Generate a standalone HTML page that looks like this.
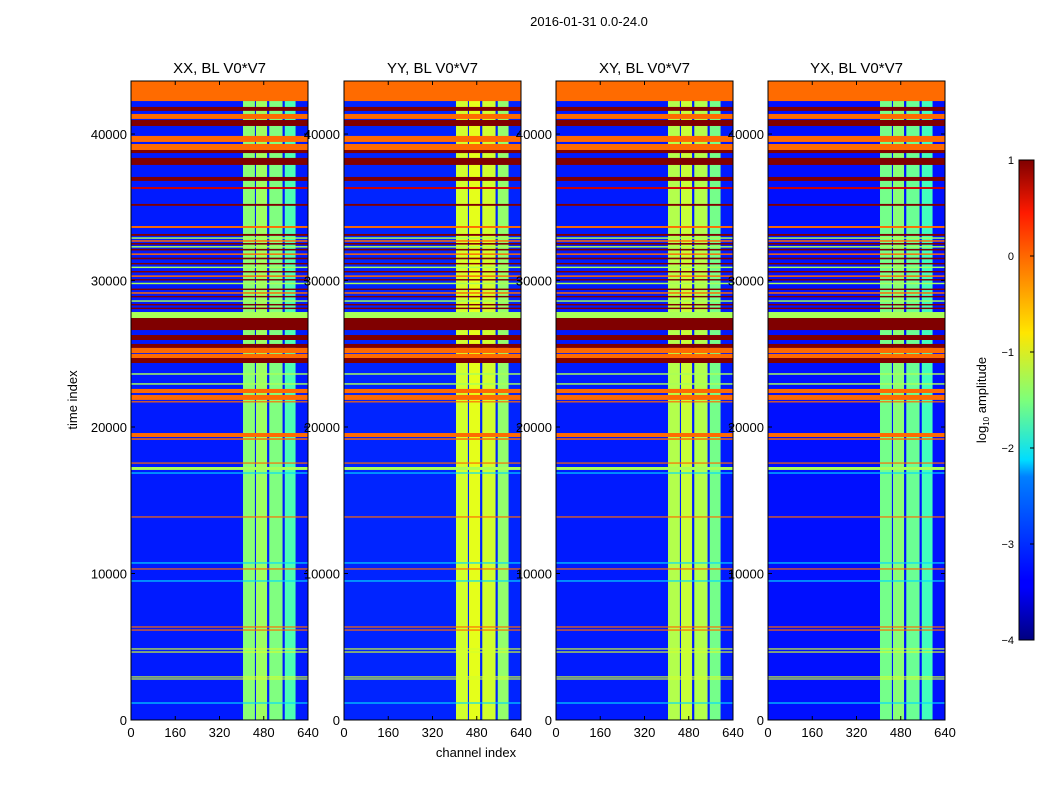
<!DOCTYPE html>
<html><head><meta charset="utf-8"><style>
html,body{margin:0;padding:0;background:#fff;}
svg text{font-family:"Liberation Sans","DejaVu Sans",sans-serif;}
</style></head><body>
<svg id="chart" width="1050" height="800" viewBox="0 0 1050 800" xmlns="http://www.w3.org/2000/svg">
<defs>
<linearGradient id="jet" x1="0" y1="1" x2="0" y2="0">
<stop offset="0" stop-color="#000080"/><stop offset="0.11" stop-color="#0000ff"/><stop offset="0.125" stop-color="#0000ff"/>
<stop offset="0.34" stop-color="#0080ff"/><stop offset="0.375" stop-color="#00ddff"/><stop offset="0.5" stop-color="#7dff7a"/>
<stop offset="0.64" stop-color="#ffe600"/><stop offset="0.8" stop-color="#ff6800"/><stop offset="0.89" stop-color="#ff1a00"/><stop offset="1" stop-color="#800000"/>
</linearGradient>
</defs>
<text x="589" y="26" font-size="13" text-anchor="middle">2016-01-31 0.0-24.0</text>
<g id="panels"></g>
<text x="476" y="757" font-size="13" text-anchor="middle">channel index</text>
<text transform="translate(77,400) rotate(-90)" font-size="13" text-anchor="middle">time index</text>
<g id="cbar"></g>
</svg>
<script>
// ---- data ----
const panelTitles = ["XX, BL V0*V7","YY, BL V0*V7","XY, BL V0*V7","YX, BL V0*V7"];
const xTicks = [0,160,320,480,640];
const yTicks = [0,10000,20000,30000,40000];
const cbTicks = [1,0,-1,-2,-3,-4];
const backgroundLevel = [-3.25,-3.2,-3.25,-3.3];
const chanStart = [405,452,500,556];
const chanEnd   = [448,492,548,595];
const chanLevelXX = [-1.45,-1.35,-1.5,-1.75];
const chanLevelYY = [-1.1,-1.0,-1.1,-1.4];
const chanLevelXY = [-1.25,-1.15,-1.25,-1.55];
const chanLevelYX = [-1.55,-1.45,-1.6,-1.8];
const flagStart = [42250,41580,41030,40550,39460,38910,38700,37890,36800,36250,35100,33590,
 33050,32850,32650,32450,32250,32050,31750,31450,31100,30850,30550,30250,30000,29750,29350,29100,28850,28550,28300,28050,
 27440,26620,25940,25400,25050,24710,24370,23570,22890,22320,21850,21680,19320,19130,17500,17070,16820,13820,10680,10270,9450,6310,6100,4810,4600,2900,2760,1120];
const flagEnd   = [43620,41850,41370,40960,39870,39320,38910,38370,37070,36380,35230,33720,
 33180,32950,32750,32560,32350,32160,31850,31560,31200,30950,30650,30350,30100,29850,29450,29200,28950,28650,28400,28150,
 27850,27440,26280,25670,25400,24990,24710,23670,22990,22600,22190,21760,19590,19230,17580,17270,16900,13900,10760,10350,9530,6390,6180,4890,4680,2980,2840,1200];
const flagLevel = [-0.15,1,-0.15,1,-0.15,-0.15,1,1,1,0.6,1,-0.15,
 1,-1.3,-0.15,1,-1.3,1,-0.15,1,1,-1.3,1,-0.15,1,-1.3,1,-0.15,1,-1.3,1,1,
 -1.3,1,1,1,-0.15,-0.15,1,-1.3,-1.3,-0.15,-0.15,-0.15,-0.15,-0.15,-0.15,-1.3,-2.3,-0.15,-2.3,-0.15,-2.3,-0.15,-0.15,-1.1,-1.1,-1.1,-1.1,-2.3];

function jet(v){
  let t=Math.max(0,Math.min(1,(v+4)/5));
  const c=x=>Math.round(255*Math.max(0,Math.min(1,x)));
  return `rgb(${c(1.5-Math.abs(4*t-3))},${c(1.5-Math.abs(4*t-2))},${c(1.5-Math.abs(4*t-1))})`;
}
const NS="http://www.w3.org/2000/svg";
function mk(tag,attrs,parent){const e=document.createElementNS(NS,tag);for(const k in attrs)e.setAttribute(k,attrs[k]);parent.appendChild(e);return e;}
const panelLeft=[131,344,556,768], panelW=177, pTop=81, pBottom=720, tMax=43620;
const yScale=t=>pBottom-(t/tMax)*(pBottom-pTop);
const chanLevels=[chanLevelXX,chanLevelYY,chanLevelXY,chanLevelYX];
const root=document.getElementById('panels');
panelTitles.forEach((title,p)=>{
  const x0=panelLeft[p]; const xScale=c=>x0+c/640*panelW;
  const g=mk('g',{},root);
  
  
  const bg=mk('rect',{x:x0,y:pTop,width:panelW,height:pBottom-pTop,fill:jet(backgroundLevel[p])},g);
  
  
  chanStart.forEach((cs,i)=>{
    const r=mk('rect',{x:xScale(cs),y:pTop,width:xScale(chanEnd[i])-xScale(cs),height:pBottom-pTop,fill:jet(chanLevels[p][i])},g);
    
    
  });
  flagStart.forEach((fs,i)=>{
    const y1=yScale(flagEnd[i]), y2=yScale(fs);
    const r=mk('rect',{x:x0,y:y1,width:panelW,height:Math.max(1,y2-y1),fill:jet(flagLevel[i])},g);
    
    
  });
  const fr=mk('rect',{x:x0,y:pTop,width:panelW,height:pBottom-pTop,fill:'none',stroke:'#000','stroke-width':1},g);
  
  
  const tt=mk('text',{x:x0+panelW/2,y:73,'font-size':15,'text-anchor':'middle'},g); tt.textContent=title;
  
  
  xTicks.forEach(v=>{
    const x=xScale(v);
    mk('line',{x1:x,x2:x,y1:pBottom,y2:pBottom-4,stroke:'#000'},g);
    mk('line',{x1:x,x2:x,y1:pTop,y2:pTop+4,stroke:'#000'},g);
    const t=mk('text',{x:x,y:pBottom+17,'font-size':13,'text-anchor':'middle'},g); t.textContent=v;
    
    
  });
  yTicks.forEach(v=>{
    const y=yScale(v);
    mk('line',{x1:x0,x2:x0+4,y1:y,y2:y,stroke:'#000'},g);
    mk('line',{x1:x0+panelW,x2:x0+panelW-4,y1:y,y2:y,stroke:'#000'},g);
    const t=mk('text',{x:x0-4,y:y+5,'font-size':13,'text-anchor':'end'},g); t.textContent=v;
    
    
  });
});
const cb=document.getElementById('cbar');
const cbTop=160, cbBot=640, cbX=1019, cbW=15;
const cbScale=v=>cbBot-(v+4)/5*(cbBot-cbTop);
const bar=mk('rect',{x:cbX,y:cbTop,width:cbW,height:cbBot-cbTop,fill:'url(#jet)',stroke:'#000','stroke-width':1},cb);


cbTicks.forEach(v=>{
  const y=cbScale(v);
  mk('line',{x1:cbX+cbW-4,x2:cbX+cbW,y1:y,y2:y,stroke:'#000'},cb);
  const t=mk('text',{x:1014,y:y+4,'font-size':11,'text-anchor':'end'},cb); t.textContent=(v<0?'\u2212'+(-v):v);
  
  
});
const lab=mk('text',{transform:'translate(986,400) rotate(-90)','font-size':13,'text-anchor':'middle'},cb);
const s1=mk('tspan',{},lab); s1.textContent='log';
const s2=mk('tspan',{'font-size':8,dy:3},lab); s2.textContent='10';
const s3=mk('tspan',{dy:-3},lab); s3.textContent=' amplitude';


</script>
</body></html>
